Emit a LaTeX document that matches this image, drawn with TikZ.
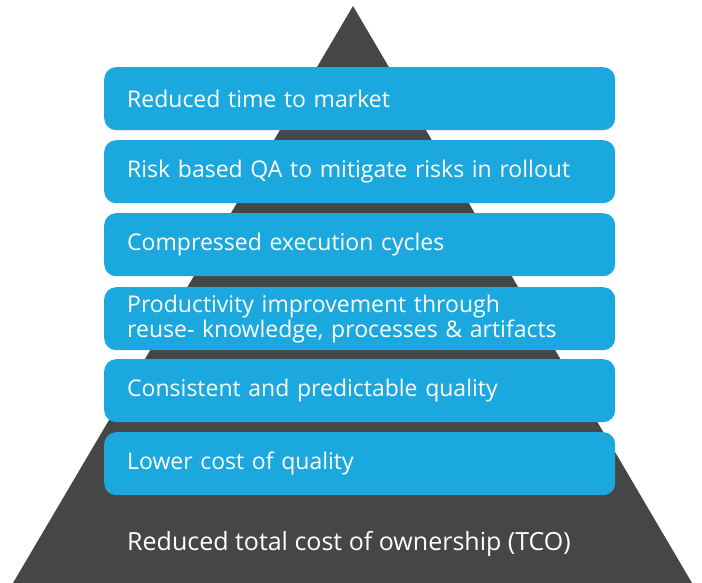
\documentclass[tikz,border=0pt]{standalone}
\usepackage{fontspec}
\setmainfont{Open Sans}
\definecolor{pyrgray}{HTML}{454746}
\definecolor{pyrblue}{HTML}{1BA8DF}
\tikzset{
  level/.style={fill=pyrblue,rounded corners=12pt,anchor=north west,
    minimum width=511pt,minimum height=63pt,inner xsep=23pt,
    text width=465pt,align=left,text=white,font=\fontsize{23}{25}\selectfont},
}
\begin{document}
\begin{tikzpicture}[x=1pt,y=-1pt]
\useasboundingbox (0,0) rectangle (702,583);
\coordinate (apex) at (353,6);
\coordinate (baseR) at (692,583);
\coordinate (baseL) at (13,583);
\fill[pyrgray] (apex)--(baseR)--(baseL)--cycle;
\node[level] (l1) at (104,67) {Reduced time to market};
\node[level] (l2) at (104,140) {Risk based QA to mitigate risks in rollout};
\node[level] (l3) at (104,213) {Compressed execution cycles};
\node[level] (l4) at (104,287) {Productivity improvement through\\reuse- knowledge, processes \& artifacts};
\node[level] (l5) at (104,359) {Consistent and predictable quality};
\node[level] (l6) at (104,432) {Lower cost of quality};
\node[anchor=west,text=white,font=\fontsize{25}{28}\selectfont,inner sep=0pt] (tco) at (127,544) {Reduced total cost of ownership (TCO)};
\end{tikzpicture}
\end{document}
